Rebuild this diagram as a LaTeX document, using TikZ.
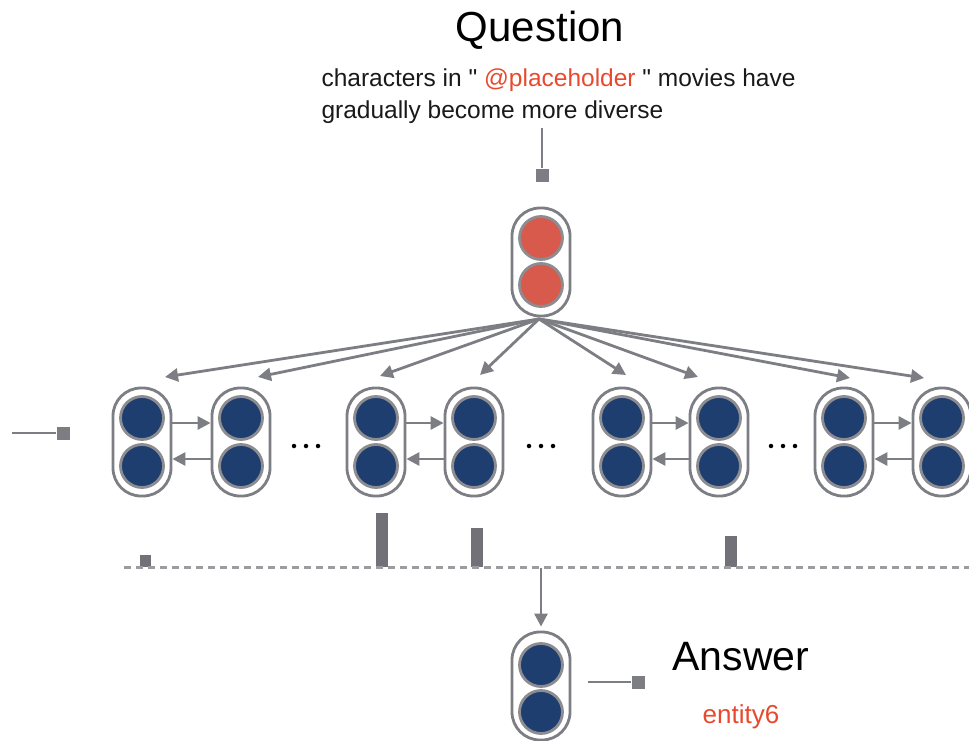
\documentclass[tikz,border=0pt]{standalone}
\usepackage{fontspec}
\setmainfont{Liberation Sans}
\usetikzlibrary{arrows.meta,calc}
\definecolor{lg}{RGB}{125,126,132}
\definecolor{cg}{RGB}{140,140,145}
\definecolor{dg}{RGB}{155,155,160}
\definecolor{nblue}{RGB}{31,62,112}
\definecolor{nred}{RGB}{216,90,76}
\definecolor{tred}{RGB}{232,73,46}
\begin{document}
\begin{tikzpicture}[x=1pt,y=-1pt,
  cell/.style={draw=lg,line width=2.8pt,rectangle,rounded corners=28pt,minimum width=58pt,minimum height=108pt,inner sep=0pt,fill=white},
  dotb/.style={circle,draw=cg,line width=2.8pt,fill=nblue,minimum size=43pt,inner sep=0pt},
  dotr/.style={circle,draw=cg,line width=2.8pt,fill=nred,minimum size=43pt,inner sep=0pt},
  arr/.style={draw=lg,line width=2.8pt,-{Triangle[length=13pt,width=13pt]}},
  ln/.style={draw=lg,line width=2.8pt},
  sq/.style={rectangle,fill=lg,minimum size=13pt,inner sep=0pt},
  bar/.style={fill=lg!90!black},
  edot/.style={circle,fill=black,minimum size=4.5pt,inner sep=0pt}
]
\useasboundingbox (0,0) rectangle (969,741);

% Question text
\node[anchor=base,text=black,font=\fontsize{42}{50}\selectfont] (qt) at (540,42) {Question};
\node[anchor=base west,text=black!90,font=\fontsize{24.5}{30}\selectfont] (q1) at (318,87)
  {characters in \textquotedbl\ \textcolor{tred}{@placeholder} \textquotedbl\ movies have};
\node[anchor=base west,text=black!90,font=\fontsize{24.5}{30}\selectfont] (q2) at (318,119)
  {gradually become more diverse};

% question input
\coordinate (qin) at (542,128);
\node[sq] (qsq) at (542,175) {};
\draw[ln] (qin) -- (qsq.north);

% red node
\node[cell] (r) at (541,262) {};
\node[dotr] (rt) at (541,238) {};
\node[dotr] (rb) at (541,285) {};
\coordinate (fan) at (539,319);

% blue nodes
\foreach \n/\x in {1/142,2/241,3/376,4/474,5/622,6/719,7/844,8/942}{
  \node[cell] (b\n) at (\x,442) {};
  \node[dotb] (b\n t) at (\x,418) {};
  \node[dotb] (b\n b) at (\x,466) {};
}

% pair arrows
\foreach \a/\b in {1/2,3/4,5/6,7/8}{
  \draw[arr] ($(b\a.east)+(0,-19)$) -- ($(b\b.west)+(0,-19)$);
  \draw[arr] ($(b\b.west)+(0,17)$) -- ($(b\a.east)+(0,17)$);
}

% ellipses
\foreach \e/\x in {1/306,2/541,3/783}{
  \node[edot] (e\e a) at (\x-12,446) {};
  \node[edot] (e\e b) at (\x,446) {};
  \node[edot] (e\e c) at (\x+12,446) {};
}

% fan arrows
\coordinate (t1) at (165,377);
\coordinate (t2) at (258,377);
\coordinate (t3) at (380,376);
\coordinate (t4) at (480,375);
\coordinate (t5) at (626,375);
\coordinate (t6) at (698,377);
\coordinate (t7) at (850,378);
\coordinate (t8) at (924,378);
\foreach \t in {1,...,8}{
  \draw[arr] (fan) -- (t\t);
}

% left input
\coordinate (lin) at (12,433);
\node[sq] (lsq) at (63,433) {};
\draw[ln] (lin) -- (lsq.west);

% attention bars
\fill[bar] (140,555) rectangle (151,567);
\fill[bar] (376,513) rectangle (388,567);
\fill[bar] (471,528) rectangle (483,567);
\fill[bar] (725,536) rectangle (737,567);

% dashed line
\coordinate (dl0) at (124,567);
\coordinate (dl1) at (969,567);
\draw[dg,line width=3pt,dash pattern=on 7pt off 5pt] (dl0) -- (dl1);

% answer node
\node[cell] (a) at (541,686) {};
\node[dotb] (at) at (541,665) {};
\node[dotb] (ab) at (541,712) {};
\coordinate (dm) at (541,568);
\draw[arr,shorten >=4pt] (dm) -- (a.north);

\node[sq] (asq) at (638,682) {};
\draw[ln] ($(a.east)+(17,-4)$) -- (asq.west);

\node[anchor=base west,text=black,font=\fontsize{41}{49}\selectfont] (at2) at (669,670) {Answer};
\node[anchor=base,text=tred,font=\fontsize{26}{31}\selectfont] (ent) at (741,723) {entity6};
\end{tikzpicture}
\end{document}
